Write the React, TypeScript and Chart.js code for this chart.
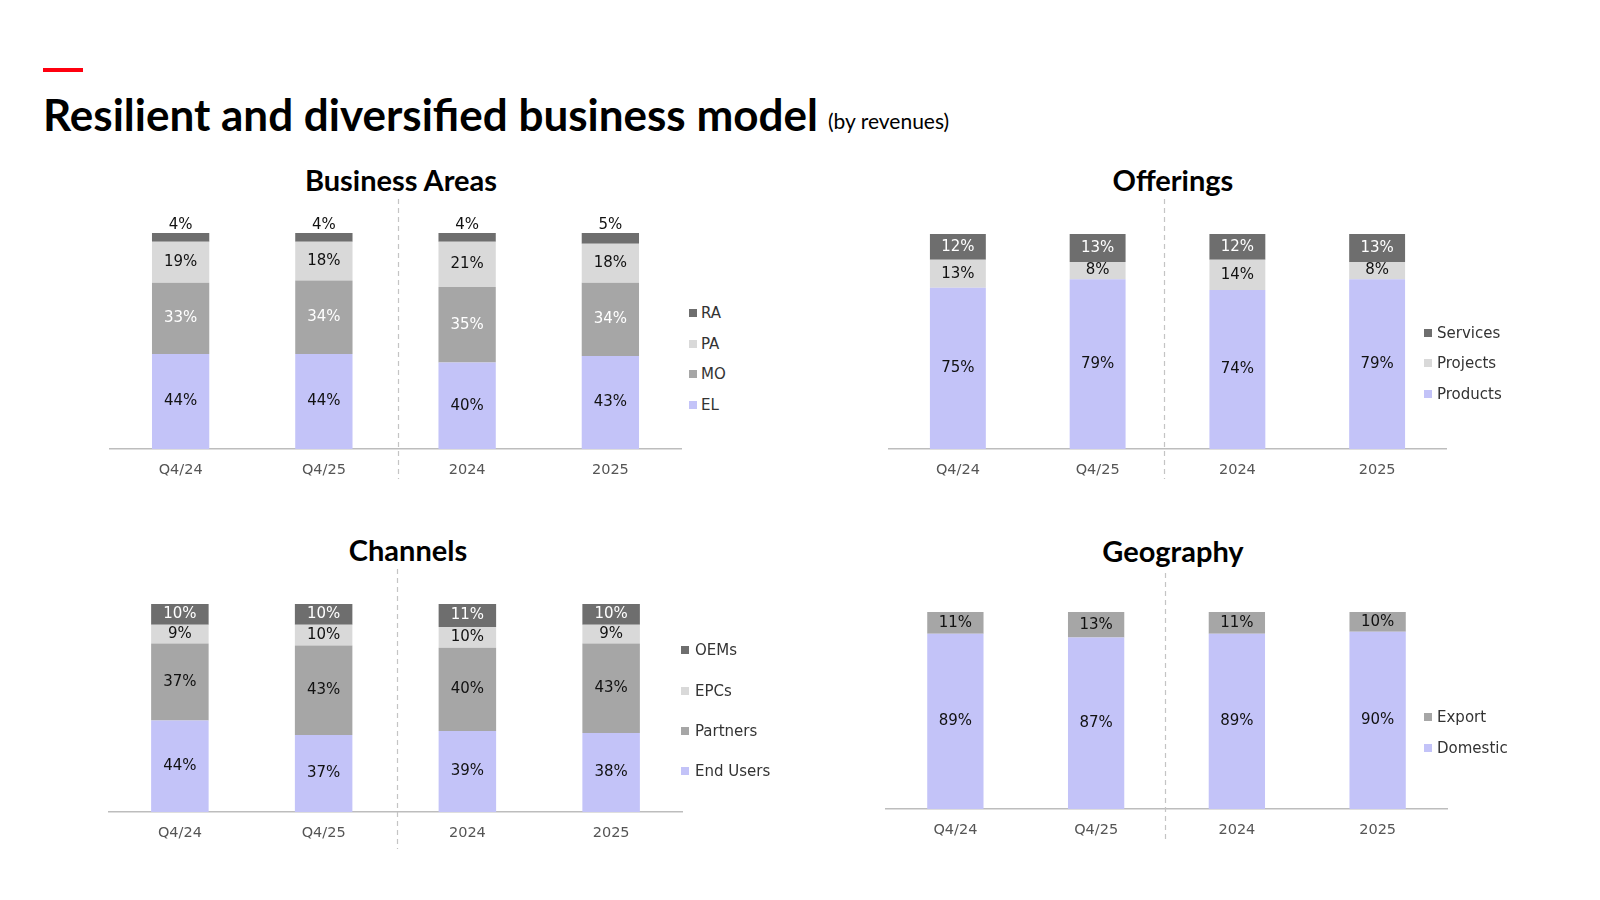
import React, { useEffect, useRef } from "react";
import { Chart, registerables } from "chart.js";

Chart.register(...registerables);

// ---------- data ----------
const categories = ["Q4/24", "Q4/25", "2024", "2025"];

const baEL = [44, 44, 40, 43];
const baMO = [33, 34, 35, 34];
const baPA = [19, 18, 21, 18];
const baRA = [4, 4, 4, 5];

const offProducts = [75, 79, 74, 79];
const offProjects = [13, 8, 14, 8];
const offServices = [12, 13, 12, 13];

const chEndUsers = [44, 37, 39, 38];
const chPartners = [37, 43, 40, 43];
const chEPCs = [9, 10, 10, 9];
const chOEMs = [10, 10, 11, 10];

const geoDomestic = [89, 87, 89, 90];
const geoExport = [11, 13, 11, 10];

// ---------- styles ----------
const LAV = "#c3c3f8";
const MID = "#a6a6a6";
const LIGHT = "#d9d9d9";
const DARK = "#6e6e6e";
const FONT = "'DejaVu Sans', 'Noto Sans', sans-serif";
const TITLE_FONT = "Lato, 'Noto Sans', sans-serif";

type Series = { label: string; data: number[]; color: string; text: string; above?: boolean };
type Panel = {
  title: string;
  titleX: number;
  titleY: number;
  left: number;
  right: number;
  top: number;
  bottom: number;
  padTop: number;
  axisH: number;
  divTop: number;
  divBottom: number;
  divShift: number;
  series: Series[];
  legendSqX: number;
  legendTextX: number;
  legendYs: number[];
};

const panels: Panel[] = [
  {
    title: "Business Areas",
    titleX: 401,
    titleY: 180,
    left: 109,
    right: 682,
    top: 233,
    bottom: 449,
    padTop: 40,
    axisH: 40,
    divTop: 34,
    divBottom: 30,
    divShift: 2,
    series: [
      { label: "EL", data: baEL, color: LAV, text: "#111" },
      { label: "MO", data: baMO, color: MID, text: "#fff" },
      { label: "PA", data: baPA, color: LIGHT, text: "#111" },
      { label: "RA", data: baRA, color: DARK, text: "#111", above: true },
    ],
    legendSqX: 689,
    legendTextX: 701,
    legendYs: [313, 344, 374, 405],
  },
  {
    title: "Offerings",
    titleX: 1173,
    titleY: 180,
    left: 888,
    right: 1447,
    top: 234,
    bottom: 449,
    padTop: 40,
    axisH: 40,
    divTop: 35,
    divBottom: 30,
    divShift: -4,
    series: [
      { label: "Products", data: offProducts, color: LAV, text: "#111" },
      { label: "Projects", data: offProjects, color: LIGHT, text: "#111" },
      { label: "Services", data: offServices, color: DARK, text: "#fff" },
    ],
    legendSqX: 1424,
    legendTextX: 1437,
    legendYs: [333, 363, 394],
  },
  {
    title: "Channels",
    titleX: 408,
    titleY: 550,
    left: 108,
    right: 683,
    top: 604,
    bottom: 812,
    padTop: 40,
    axisH: 45,
    divTop: 35,
    divBottom: 37,
    divShift: 1,
    series: [
      { label: "End Users", data: chEndUsers, color: LAV, text: "#111" },
      { label: "Partners", data: chPartners, color: MID, text: "#111" },
      { label: "EPCs", data: chEPCs, color: LIGHT, text: "#111" },
      { label: "OEMs", data: chOEMs, color: DARK, text: "#fff" },
    ],
    legendSqX: 681,
    legendTextX: 695,
    legendYs: [650, 691, 731, 771],
  },
  {
    title: "Geography",
    titleX: 1173,
    titleY: 551,
    left: 885,
    right: 1448,
    top: 612,
    bottom: 809,
    padTop: 42,
    axisH: 42,
    divTop: 39,
    divBottom: 34,
    divShift: -2,
    series: [
      { label: "Domestic", data: geoDomestic, color: LAV, text: "#111" },
      { label: "Export", data: geoExport, color: MID, text: "#111" },
    ],
    legendSqX: 1424,
    legendTextX: 1437,
    legendYs: [717, 748],
  },
];

function StackedPanel({ p }: { p: Panel }) {
  const ref = useRef<HTMLCanvasElement | null>(null);
  const width = p.right - p.left;
  const height = p.bottom - p.top + p.padTop + p.axisH;

  useEffect(() => {
    if (!ref.current) return;
    const labelPlugin = {
      id: "segLabels",
      afterDatasetsDraw(chart: any) {
        const ctx = chart.ctx;
        ctx.save();
        ctx.font = `15px ${FONT}`;
        ctx.textAlign = "center";
        ctx.textBaseline = "middle";
        p.series.forEach((s, d) => {
          const meta = chart.getDatasetMeta(d);
          meta.data.forEach((bar: any, i: number) => {
            const { x, y, base } = bar.getProps(["x", "y", "base"], true);
            const ty = s.above ? y - 8 : (y + base) / 2;
            ctx.fillStyle = s.text;
            ctx.fillText(`${s.data[i]}%`, x, ty);
          });
        });
        ctx.restore();
      },
    };
    const dividerPlugin = {
      id: "divider",
      afterDraw(chart: any) {
        const xs = chart.scales.x;
        const xm = (xs.getPixelForValue(1) + xs.getPixelForValue(2)) / 2 + p.divShift;
        const ctx = chart.ctx;
        const a = chart.chartArea;
        ctx.save();
        ctx.strokeStyle = "#c4c4c4";
        ctx.lineWidth = 1.2;
        ctx.setLineDash([5, 4]);
        ctx.beginPath();
        ctx.moveTo(Math.round(xm) + 0.5, a.top - p.divTop);
        ctx.lineTo(Math.round(xm) + 0.5, a.bottom + p.divBottom);
        ctx.stroke();
        ctx.restore();
      },
    };
    const chart = new Chart(ref.current, {
      type: "bar",
      data: {
        labels: categories,
        datasets: p.series.map((s) => ({
          label: s.label,
          data: s.data,
          backgroundColor: s.color,
          borderWidth: 0,
          barPercentage: 0.4,
          categoryPercentage: 1,
        })),
      },
      options: {
        responsive: false,
        animation: false,
        devicePixelRatio: 1,
        layout: { padding: { top: p.padTop, left: 0, right: 0, bottom: 0 } },
        plugins: { legend: { display: false }, tooltip: { enabled: false } },
        scales: {
          x: {
            stacked: true,
            z: 1,
            grid: { display: false, drawTicks: false },
            border: { display: true, color: "#bdbdbd", width: 1.5 },
            ticks: { color: "#555", font: { family: FONT, size: 14.5 }, padding: 13 },
            afterFit: (scale: any) => {
              scale.height = p.axisH;
            },
          },
          y: { stacked: true, display: false, min: 0, max: 100 },
        },
      } as any,
      plugins: [labelPlugin, dividerPlugin],
    });
    return () => chart.destroy();
  }, []);

  const legendItems = [...p.series].reverse();

  return (
    <>
      <div
        style={{
          position: "absolute",
          left: p.titleX - 200,
          width: 400,
          top: p.titleY - 18,
          height: 36,
          lineHeight: "36px",
          textAlign: "center",
          fontFamily: TITLE_FONT,
          fontWeight: 700,
          fontSize: 29,
          color: "#000",
        }}
      >
        {p.title}
      </div>
      <canvas
        ref={ref}
        width={width}
        height={height}
        style={{ position: "absolute", left: p.left, top: p.top - p.padTop, width, height }}
      />
      {legendItems.map((s, k) => (
        <React.Fragment key={s.label}>
          <div
            style={{
              position: "absolute",
              left: p.legendSqX,
              top: p.legendYs[k] - 4,
              width: 8,
              height: 8,
              background: s.color,
            }}
          />
          <div
            style={{
              position: "absolute",
              left: p.legendTextX,
              top: p.legendYs[k] - 11,
              height: 22,
              lineHeight: "22px",
              fontFamily: FONT,
              fontSize: 15,
              color: "#333",
              whiteSpace: "nowrap",
            }}
          >
            {s.label}
          </div>
        </React.Fragment>
      ))}
    </>
  );
}

export default function App() {
  return (
    <div
      style={{
        position: "absolute",
        left: 0,
        top: 0,
        width: 1600,
        height: 900,
        background: "#fff",
        overflow: "hidden",
      }}
    >
      <div style={{ position: "absolute", left: 43, top: 68, width: 40, height: 4, background: "#ff000f" }} />
      <div
        style={{
          position: "absolute",
          left: 43,
          top: 86,
          height: 56,
          lineHeight: "56px",
          whiteSpace: "nowrap",
          fontFamily: TITLE_FONT,
          color: "#000",
        }}
      >
        <span style={{ fontWeight: 700, fontSize: 44 }}>Resilient and diversified business model</span>
        <span style={{ fontSize: 21, marginLeft: 10, position: "relative", top: -2 }}>(by revenues)</span>
      </div>
      {panels.map((p) => (
        <StackedPanel key={p.title} p={p} />
      ))}
    </div>
  );
}
